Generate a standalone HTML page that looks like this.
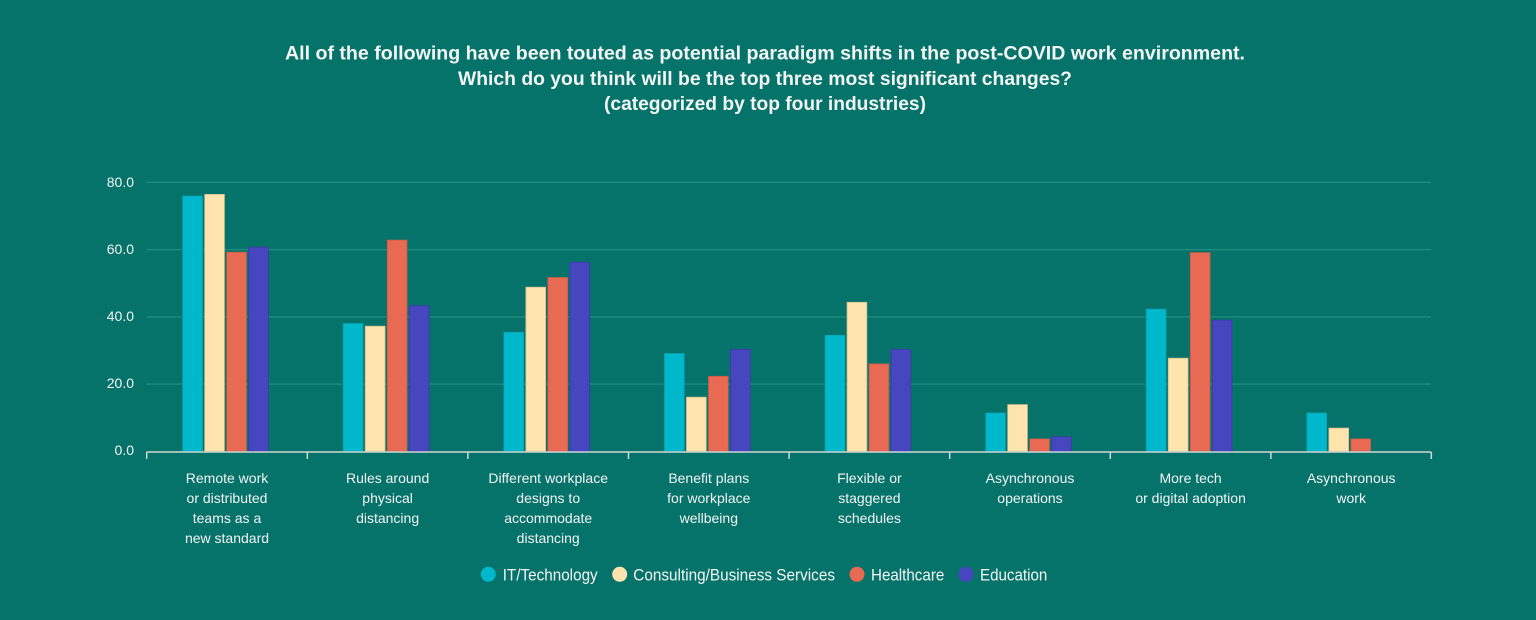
<!DOCTYPE html>
<html><head><meta charset="utf-8"><style>
html,body{margin:0;padding:0;background:#06736a;}
svg{display:block;}
text{font-family:"Liberation Sans",Arial,sans-serif;fill:#f2f5f4;}
</style></head><body>
<svg width="1536" height="620" viewBox="0 0 1536 620" xmlns="http://www.w3.org/2000/svg">
<rect width="1536" height="620" fill="#06736a"/>
<g font-weight="bold" font-size="19" text-anchor="middle" fill="#ffffff">
<text x="765" y="59.5" textLength="960" lengthAdjust="spacingAndGlyphs">All of the following have been touted as potential paradigm shifts in the post-COVID work environment.</text>
<text x="765" y="85" textLength="614" lengthAdjust="spacingAndGlyphs">Which do you think will be the top three most significant changes?</text>
<text x="765" y="110" textLength="322" lengthAdjust="spacingAndGlyphs">(categorized by top four industries)</text>
</g>
<g stroke="#1b8a7d" stroke-width="1.5">
<line x1="146.7" y1="182.3" x2="1431" y2="182.3"/>
<line x1="146.7" y1="249.6" x2="1431" y2="249.6"/>
<line x1="146.7" y1="316.9" x2="1431" y2="316.9"/>
<line x1="146.7" y1="384.1" x2="1431" y2="384.1"/>
</g>
<g font-size="14" text-anchor="end">
<text x="134" y="187">80.0</text>
<text x="134" y="254">60.0</text>
<text x="134" y="321">40.0</text>
<text x="134" y="388">20.0</text>
<text x="134" y="455">0.0</text>
</g>
<g stroke-width="0.8">
<!-- c1 -->
<rect x="182.7" y="196.1" width="19.7" height="255.2" fill="#00b8cc" stroke="#0aa3b3"/>
<rect x="204.7" y="194.4" width="19.7" height="256.9" fill="#ffe4ad" stroke="#d9c08e"/>
<rect x="226.7" y="252.2" width="19.7" height="199.1" fill="#e86a52" stroke="#c95a46"/>
<rect x="248.7" y="247.2" width="19.7" height="204.1" fill="#4646bf" stroke="#3b3ba6"/>
<!-- c2 -->
<rect x="343.3" y="323.5" width="19.7" height="127.8" fill="#00b8cc" stroke="#0aa3b3"/>
<rect x="365.3" y="326.2" width="19.7" height="125.1" fill="#ffe4ad" stroke="#d9c08e"/>
<rect x="387.3" y="240.1" width="19.7" height="211.2" fill="#e86a52" stroke="#c95a46"/>
<rect x="409.3" y="305.7" width="19.7" height="145.6" fill="#4646bf" stroke="#3b3ba6"/>
<!-- c3 -->
<rect x="503.9" y="332.3" width="19.7" height="119.0" fill="#00b8cc" stroke="#0aa3b3"/>
<rect x="525.9" y="287.2" width="19.7" height="164.1" fill="#ffe4ad" stroke="#d9c08e"/>
<rect x="547.9" y="277.5" width="19.7" height="173.8" fill="#e86a52" stroke="#c95a46"/>
<rect x="569.9" y="262.3" width="19.7" height="189.0" fill="#4646bf" stroke="#3b3ba6"/>
<!-- c4 -->
<rect x="664.5" y="353.5" width="19.7" height="97.8" fill="#00b8cc" stroke="#0aa3b3"/>
<rect x="686.5" y="397.2" width="19.7" height="54.1" fill="#ffe4ad" stroke="#d9c08e"/>
<rect x="708.5" y="376.3" width="19.7" height="75.0" fill="#e86a52" stroke="#c95a46"/>
<rect x="730.5" y="349.4" width="19.7" height="101.9" fill="#4646bf" stroke="#3b3ba6"/>
<!-- c5 -->
<rect x="825.1" y="335.3" width="19.7" height="116.0" fill="#00b8cc" stroke="#0aa3b3"/>
<rect x="847.1" y="302.3" width="19.7" height="149.0" fill="#ffe4ad" stroke="#d9c08e"/>
<rect x="869.1" y="363.9" width="19.7" height="87.4" fill="#e86a52" stroke="#c95a46"/>
<rect x="891.1" y="349.4" width="19.7" height="101.9" fill="#4646bf" stroke="#3b3ba6"/>
<!-- c6 -->
<rect x="985.7" y="413.0" width="19.7" height="38.3" fill="#00b8cc" stroke="#0aa3b3"/>
<rect x="1007.7" y="404.6" width="19.7" height="46.7" fill="#ffe4ad" stroke="#d9c08e"/>
<rect x="1029.7" y="438.9" width="19.7" height="12.4" fill="#e86a52" stroke="#c95a46"/>
<rect x="1051.7" y="436.8" width="19.7" height="14.5" fill="#4646bf" stroke="#3b3ba6"/>
<!-- c7 -->
<rect x="1146.3" y="309.1" width="19.7" height="142.2" fill="#00b8cc" stroke="#0aa3b3"/>
<rect x="1168.3" y="358.2" width="19.7" height="93.1" fill="#ffe4ad" stroke="#d9c08e"/>
<rect x="1190.3" y="252.6" width="19.7" height="198.7" fill="#e86a52" stroke="#c95a46"/>
<rect x="1212.3" y="320.2" width="19.7" height="131.1" fill="#4646bf" stroke="#3b3ba6"/>
<!-- c8 -->
<rect x="1306.9" y="413.0" width="19.7" height="38.3" fill="#00b8cc" stroke="#0aa3b3"/>
<rect x="1328.9" y="428.1" width="19.7" height="23.2" fill="#ffe4ad" stroke="#d9c08e"/>
<rect x="1350.9" y="438.9" width="19.7" height="12.4" fill="#e86a52" stroke="#c95a46"/>
</g>
<g stroke="#cfd8d5" stroke-width="1.5" fill="none">
<line x1="146.7" y1="452" x2="1431.3" y2="452"/>
<line x1="146.7" y1="452" x2="146.7" y2="459"/>
<line x1="307.3" y1="452" x2="307.3" y2="459"/>
<line x1="467.9" y1="452" x2="467.9" y2="459"/>
<line x1="628.5" y1="452" x2="628.5" y2="459"/>
<line x1="789.1" y1="452" x2="789.1" y2="459"/>
<line x1="949.7" y1="452" x2="949.7" y2="459"/>
<line x1="1110.3" y1="452" x2="1110.3" y2="459"/>
<line x1="1270.9" y1="452" x2="1270.9" y2="459"/>
<line x1="1431.3" y1="452" x2="1431.3" y2="459"/>
</g>
<g font-size="14" text-anchor="middle">
<text x="227" y="483">Remote work</text>
<text x="227" y="503">or distributed</text>
<text x="227" y="523">teams as a</text>
<text x="227" y="543">new standard</text>
<text x="387.6" y="483">Rules around</text>
<text x="387.6" y="503">physical</text>
<text x="387.6" y="523">distancing</text>
<text x="548.2" y="483">Different workplace</text>
<text x="548.2" y="503">designs to</text>
<text x="548.2" y="523">accommodate</text>
<text x="548.2" y="543">distancing</text>
<text x="708.8" y="483">Benefit plans</text>
<text x="708.8" y="503">for workplace</text>
<text x="708.8" y="523">wellbeing</text>
<text x="869.4" y="483">Flexible or</text>
<text x="869.4" y="503">staggered</text>
<text x="869.4" y="523">schedules</text>
<text x="1030" y="483">Asynchronous</text>
<text x="1030" y="503">operations</text>
<text x="1190.6" y="483">More tech</text>
<text x="1190.6" y="503">or digital adoption</text>
<text x="1351.2" y="483">Asynchronous</text>
<text x="1351.2" y="503">work</text>
</g>
<g>
<circle cx="488.3" cy="574.3" r="7.5" fill="#00b8cc"/>
<circle cx="619.7" cy="574.3" r="7.5" fill="#ffe4ad"/>
<circle cx="857" cy="574.3" r="7.5" fill="#e86a52"/>
<circle cx="966" cy="574.3" r="7.5" fill="#4646bf"/>
</g>
<g font-size="16.5">
<text x="502.7" y="580.5" textLength="95" lengthAdjust="spacingAndGlyphs">IT/Technology</text>
<text x="633.3" y="580.5" textLength="201.7" lengthAdjust="spacingAndGlyphs">Consulting/Business Services</text>
<text x="871" y="580.5" textLength="73.3" lengthAdjust="spacingAndGlyphs">Healthcare</text>
<text x="980" y="580.5" textLength="67.3" lengthAdjust="spacingAndGlyphs">Education</text>
</g>
</svg>
</body></html>
